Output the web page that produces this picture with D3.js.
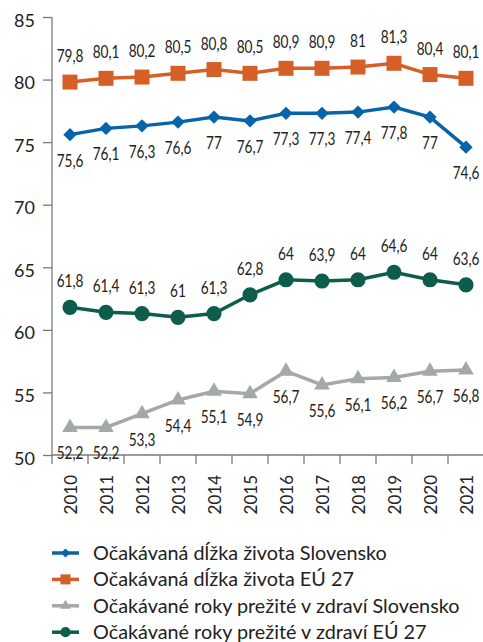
<!DOCTYPE html>
<html>
<head>
<meta charset="utf-8">
<script src="https://cdn.jsdelivr.net/npm/d3@7"></script>
<style>
  body { margin: 0; background: #fff; }
  svg { display: block; }
</style>
</head>
<body>
<div id="chart"></div>
<script>
const years = ["2010", "2011", "2012", "2013", "2014", "2015", "2016", "2017", "2018", "2019", "2020", "2021"];
const lifeSK = [75.6, 76.1, 76.3, 76.6, 77, 76.7, 77.3, 77.3, 77.4, 77.8, 77, 74.6];
const lifeEU = [79.8, 80.1, 80.2, 80.5, 80.8, 80.5, 80.9, 80.9, 81, 81.3, 80.4, 80.1];
const healthySK = [52.2, 52.2, 53.3, 54.4, 55.1, 54.9, 56.7, 55.6, 56.1, 56.2, 56.7, 56.8];
const healthyEU = [61.8, 61.4, 61.3, 61, 61.3, 62.8, 64, 63.9, 64, 64.6, 64, 63.6];
const yTicks = [50, 55, 60, 65, 70, 75, 80, 85];

const series = [
  { name: "Očakávaná dĺžka života Slovensko", values: lifeSK, color: "#0764a8", symbol: d3.symbolDiamond2, size: 115, dy: 26 },
  { name: "Očakávaná dĺžka života EÚ 27", values: lifeEU, color: "#d65f27", symbol: d3.symbolSquare, size: 225, dy: -26 },
  { name: "Očakávané roky prežité v zdraví Slovensko", values: healthySK, color: "#a3a9aa", symbol: d3.symbolTriangle, size: 105, dy: 26 },
  { name: "Očakávané roky prežité v zdraví EÚ 27", values: healthyEU, color: "#0d5c4c", symbol: d3.symbolCircle, size: 180, dy: -26 }
];

const W = 483, H = 642;
const svg = d3.select("#chart").append("svg").attr("width", W).attr("height", H);

const x = d3.scaleBand().domain(years).range([52, 484]);
const y = d3.scaleLinear().domain([50, 85]).range([455, 17]);
const cx = d => x(d) + x.bandwidth() / 2;

// y axis
const yAxis = svg.append("g")
  .attr("transform", "translate(52,0)")
  .call(d3.axisLeft(y).tickValues(yTicks).tickSize(9).tickPadding(8));
yAxis.select(".domain").attr("stroke", "#7a7a7a").attr("stroke-width", 1.3).attr("d", `M0,${y(85)}V${y(50)}`);
yAxis.selectAll(".tick line").attr("stroke", "#7a7a7a").attr("stroke-width", 1.3);
yAxis.selectAll(".tick text").attr("fill", "#222").attr("dy", "0.5em")
  .style("font-family", "Lato, sans-serif").style("font-size", "18px");

// x axis
const xAxis = svg.append("g")
  .attr("transform", `translate(0,${y(50)})`)
  .call(d3.axisBottom(x).tickSize(0).tickPadding(0));
xAxis.select(".domain").attr("stroke", "#7a7a7a").attr("stroke-width", 1.3).attr("d", "M52,0H483");
xAxis.selectAll(".tick text")
  .attr("fill", "#222")
  .attr("x", 0).attr("y", 0).attr("dy", "0.35em")
  .style("font-family", "Lato, sans-serif")
  .style("font-size", "17px")
  .attr("text-anchor", "end")
  .attr("transform", "translate(1,20) rotate(-90)");
// boundary ticks between years
svg.append("g").selectAll("line")
  .data(years)
  .join("line")
  .attr("x1", d => x(d)).attr("x2", d => x(d))
  .attr("y1", y(50)).attr("y2", y(50) + 9)
  .attr("stroke", "#7a7a7a").attr("stroke-width", 1.3);

const line = d3.line().x((d, i) => cx(years[i])).y(d => y(d));
const fmt = d => String(d).replace(".", ",");

series.forEach(s => {
  svg.append("path")
    .attr("d", line(s.values))
    .attr("fill", "none")
    .attr("stroke", s.color)
    .attr("stroke-width", 3.5);

  svg.append("g").selectAll("path")
    .data(s.values)
    .join("path")
    .attr("transform", (d, i) => `translate(${cx(years[i])},${y(d)})`)
    .attr("d", d3.symbol(s.symbol, s.size))
    .attr("fill", s.color);

  // value labels, narrowed horizontally like the condensed face of the original
  svg.append("g").selectAll("text")
    .data(s.values)
    .join("text")
    .attr("transform", (d, i) => `translate(${cx(years[i])},${y(d) + s.dy}) scale(0.8,1)`)
    .attr("dy", "0.35em")
    .attr("text-anchor", "middle")
    .attr("fill", "#222")
    .style("font-family", "Lato, sans-serif")
    .style("font-size", "17px")
    .text(fmt);
});

// legend
const legend = svg.append("g").attr("transform", "translate(52,553)");
const legendTexts = [];
series.forEach((s, i) => {
  const g = legend.append("g").attr("transform", `translate(0,${i * 26.4})`);
  g.append("line").attr("x1", 0).attr("x2", 27).attr("stroke", s.color).attr("stroke-width", 3.5);
  g.append("path").attr("transform", "translate(13.5,0)").attr("d", d3.symbol(s.symbol, s.size * 0.45)).attr("fill", s.color);
  legendTexts.push(g.append("text")
    .attr("x", 41).attr("dy", "0.35em")
    .attr("fill", "#222")
    .style("font-family", "Lato, sans-serif")
    .style("font-size", "19px")
    .text(s.name));
});
// size legend so that the first entry spans ~294px as in the original
const w0 = legendTexts[0].node().getComputedTextLength();
const fs = Math.min(22, 19 * 294 / w0);
legendTexts.forEach(t => t.style("font-size", fs + "px"));
</script>
</body>
</html>
